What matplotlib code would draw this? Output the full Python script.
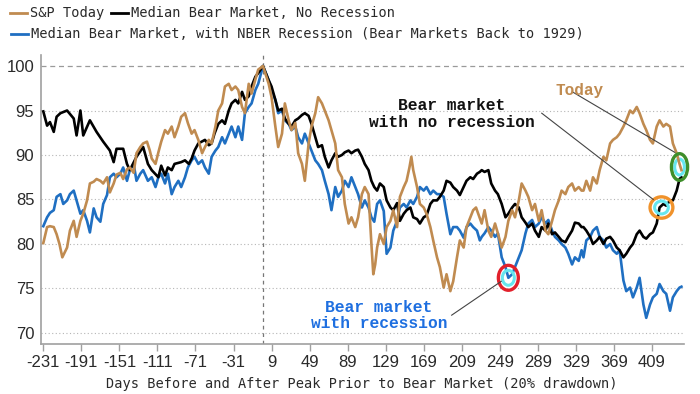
import matplotlib
matplotlib.use("Agg")
import matplotlib.pyplot as plt
from matplotlib.patches import Ellipse
from matplotlib.lines import Line2D

# ---------------- data ----------------
sp_days = [-231, -227, -224, -220, -217, -214, -211, -206, -203, -199, -196, -192, -189, -185, -182,
           -178, -175, -171, -168, -164, -161, -157, -154, -150, -147, -143, -140, -136, -133, -129,
           -126, -122, -119, -117, -113, -110, -107, -103, -100, -96, -93, -89, -86, -82, -79, -75,
           -72, -68, -64, -61, -57, -54, -50, -47, -43, -40, -36, -33, -29, -26, -22, -19, -15, -12,
           -8, -5, 0, 6, 9, 13, 16, 20, 23, 27, 30, 34, 37, 41, 44, 48, 51, 55, 58, 62, 65, 69, 72,
           76, 79, 83, 86, 90, 93, 97, 100, 104, 107, 111, 114, 116, 118, 120, 123, 127, 130, 134,
           137, 141, 144, 148, 151, 154, 156, 158, 162, 165, 169, 172, 176, 179, 183, 186, 190, 193,
           197, 200, 204, 207, 211, 214, 218, 221, 224, 230, 233, 237, 240, 244, 247, 251, 255, 258,
           262, 265, 269, 272, 276, 279, 283, 286, 290, 293, 297, 300, 304, 307, 311, 314, 318, 321,
           325, 328, 332, 335, 337, 340, 344, 347, 351, 354, 358, 361, 365, 368, 372, 375, 379, 382,
           386, 389, 393, 396, 400, 403, 407, 410, 414, 417, 421, 424, 428, 431, 435, 438, 440]
sp_vals = [80.1, 81.9, 82.0, 81.9, 81.1, 80.0, 78.5, 79.6, 81.5, 82.6, 80.8, 82.6, 83.4, 84.9, 86.8,
           87.0, 87.3, 87.1, 86.8, 87.5, 85.8, 86.8, 87.8, 88.0, 87.3, 88.4, 88.6, 88.0, 90.2, 90.9,
           91.3, 91.5, 90.5, 89.6, 89.0, 90.3, 91.5, 92.8, 92.4, 93.2, 92.0, 93.2, 94.3, 94.7, 93.6, 92.4,
           92.8, 91.7, 90.2, 90.9, 91.7, 91.3, 93.2, 95.0, 95.8, 97.7, 98.0, 97.3, 97.7, 97.3, 95.4, 94.7, 98.0, 96.9,
           98.5, 99.6, 100.0, 98.0, 96.5, 93.2, 90.9, 92.4, 95.8, 93.9, 92.8, 93.6, 90.2, 89.0, 87.1, 91.3, 93.2, 94.7, 96.5, 95.8, 95.0, 93.9, 92.8,
           91.3, 88.3, 87.5, 84.5, 82.3, 83.0, 81.9, 83.0, 85.6, 86.4, 85.6, 80.0, 76.6, 77.7, 79.6, 81.1, 80.0, 81.9, 82.6,
           83.8, 81.9, 85.3, 86.4, 87.1, 88.6, 89.8, 88.3, 86.4, 84.5, 84.1, 83.4, 81.9, 80.4, 78.5, 77.4, 75.1, 76.6,
           74.7, 75.8, 78.5, 80.4, 79.6, 81.9, 83.0, 83.8, 84.1, 82.3, 83.8, 81.5, 80.8, 82.3, 81.2, 79.6, 80.8, 82.6,
           83.8, 83.0, 84.9, 86.8, 86.0, 85.3, 83.8, 84.5, 82.6, 83.8, 81.5, 81.1, 82.6, 83.8, 84.9, 86.0, 85.6, 86.4,
           86.8, 86.0, 86.4, 86.0, 86.0, 87.1, 86.0, 87.5, 86.8, 88.3, 89.8, 89.4, 91.3, 91.7, 92.0, 92.4, 93.2, 93.9,
           95.0, 94.7, 95.4, 94.7, 93.5, 92.8, 91.7, 91.3, 93.2, 93.9, 93.2, 93.5, 93.2, 91.3, 90.2, 89.0, 88.3]

norec_days = [-231, -227, -224, -220, -217, -213, -206, -199, -196, -192, -189, -182, -175, -168, -161,
              -157, -154, -147, -143, -140, -133, -126, -121, -117, -110, -107, -103, -100, -96, -93,
              -86, -82, -78, -75, -72, -68, -61, -57, -54, -51, -47, -43, -40, -36, -33, -29, -26, -22,
              -19, -15, -12, -8, -5, 0, 6, 9, 13, 16, 20, 23, 27, 30, 34, 37, 41, 44, 48, 51, 55, 58, 62,
              65, 69, 72, 76, 79, 83, 86, 90, 93, 97, 100, 104, 107, 111, 114, 117, 120, 123, 127, 130,
              134, 137, 141, 144, 148, 151, 155, 158, 162, 165, 169, 172, 176, 179, 183, 186, 190, 193,
              197, 200, 204, 207, 211, 214, 218, 221, 225, 228, 230, 233, 237, 240, 244, 247, 251, 255,
              258, 262, 265, 269, 272, 276, 279, 283, 286, 290, 293, 297, 300, 304, 307, 311, 314, 318,
              321, 325, 328, 332, 335, 337, 340, 344, 347, 351, 354, 358, 361, 365, 368, 372, 375, 379,
              382, 386, 389, 393, 396, 400, 403, 407, 410, 414, 417, 421, 424, 428, 431, 435, 438, 440]
norec_vals = [94.9, 93.3, 93.7, 92.6, 94.3, 94.7, 95.0, 94.1, 92.2, 95.0, 92.2, 93.9, 92.6, 91.5, 90.5,
              89.2, 90.7, 90.7, 89.0, 88.3, 89.8, 90.9, 89.0, 88.3, 87.5, 88.8, 87.7, 88.6, 88.3, 89.0,
              89.2, 89.4, 89.0, 89.6, 90.5, 91.3, 91.7, 91.1, 91.3, 92.4, 93.5, 93.9, 93.5, 95.0, 95.8, 96.2, 95.8, 97.1,
              96.2, 96.6, 97.7, 98.8, 99.2, 100.0, 98.4, 97.7, 96.2, 95.0, 95.2, 94.1, 93.5, 93.2, 93.9, 94.1, 94.5, 94.7, 94.4, 93.5, 92.0, 90.9, 91.1,
              89.8, 88.6, 89.4, 90.2, 89.8, 90.0, 90.3, 90.5, 90.2, 90.5, 90.6, 89.8, 89.0, 88.3, 87.1, 86.4, 86.0, 86.8, 86.4, 84.9,
              84.1, 83.8, 84.6, 82.6, 83.4, 83.8, 84.1, 83.0, 82.8, 82.3, 83.0, 83.2, 84.5, 84.9, 84.9, 85.3, 86.0, 87.1,
              86.9, 86.4, 86.0, 85.5, 86.4, 87.1, 87.5, 87.3, 87.9, 88.1, 88.3, 88.1, 88.3, 86.8, 86.0, 85.6, 84.5, 83.0,
              83.4, 84.1, 84.5, 84.1, 83.0, 82.4, 81.9, 82.3, 81.5, 80.8, 81.9, 81.5, 82.3, 81.1, 81.3, 80.8, 80.4, 80.2,
              80.8, 81.5, 82.4, 82.3, 81.9, 81.9, 81.5, 80.8, 80.0, 80.4, 80.8, 80.0, 80.6, 80.8, 80.4, 79.6, 79.3, 78.5,
              78.9, 79.6, 80.0, 81.1, 81.5, 80.8, 80.6, 81.1, 81.3, 82.3, 84.1, 84.5, 84.3, 84.9, 84.9, 86.0, 87.3, 87.5]

rec_days = [-231, -227, -224, -220, -217, -213, -210, -206, -203, -199, -196, -192, -189, -185, -182,
            -178, -175, -171, -168, -164, -161, -157, -154, -150, -147, -143, -140, -136, -133, -129,
            -126, -121, -117, -113, -110, -107, -103, -100, -96, -93, -89, -86, -82, -79, -75, -72,
            -68, -64, -61, -57, -54, -50, -47, -43, -40, -36, -33, -29, -26, -22, -19, -15, -12, -8,
            -5, 0, 6, 9, 13, 16, 20, 23, 27, 30, 34, 37, 41, 44, 48, 51, 55, 58, 62, 65, 69, 72, 76,
            79, 83, 86, 90, 93, 97, 100, 104, 107, 111, 114, 117, 120, 123, 127, 130, 134, 137, 141,
            144, 148, 151, 155, 158, 162, 165, 169, 172, 176, 179, 183, 186, 190, 193, 197, 200, 204,
            207, 211, 214, 218, 221, 225, 228, 230, 233, 237, 240, 244, 247, 251, 255, 258, 262, 265,
            269, 272, 276, 279, 283, 286, 290, 293, 297, 300, 304, 307, 311, 314, 318, 321, 325, 328,
            332, 335, 337, 340, 344, 347, 351, 354, 358, 361, 365, 368, 372, 375, 379, 382, 386, 389,
            393, 396, 400, 403, 407, 410, 414, 417, 421, 424, 428, 431, 435, 438, 440]
rec_vals = [82.0, 83.0, 83.5, 83.8, 85.3, 85.6, 84.5, 84.9, 85.6, 86.0, 84.9, 83.4, 83.8, 82.6, 81.3,
            84.0, 83.0, 82.5, 84.5, 85.5, 87.5, 87.9, 87.5, 87.9, 88.6, 87.1, 88.3, 89.0, 87.1, 87.9,
            88.3, 87.1, 87.5, 86.4, 87.5, 87.9, 86.8, 87.9, 85.6, 86.4, 87.1, 86.4, 87.5, 88.6, 89.4, 89.8,
            89.0, 89.4, 88.6, 87.9, 89.8, 90.5, 90.9, 92.0, 91.3, 92.4, 93.2, 92.0, 93.2, 91.7, 94.7, 95.4, 95.8, 97.3,
            98.0, 100.0, 98.4, 97.3, 96.2, 94.7, 95.0, 93.9, 93.5, 92.8, 93.2, 92.0, 91.3, 92.4, 91.3, 90.5, 89.4, 89.0, 88.3, 87.1, 85.6, 83.8, 86.4,
            85.3, 86.0, 87.1, 86.4, 87.5, 86.4, 85.6, 84.1, 84.9, 84.1, 83.0, 82.5, 84.5, 84.9, 83.7, 78.9, 79.6, 81.5, 82.6,
            84.1, 84.5, 84.1, 84.9, 84.5, 85.3, 86.4, 86.0, 86.4, 85.6, 86.0, 85.6, 85.6, 85.3, 83.4, 81.1, 81.9, 81.9,
            81.5, 80.7, 81.9, 82.3, 81.9, 81.5, 80.4, 80.8, 81.2, 81.9, 81.5, 80.8, 81.2, 78.5, 77.4, 76.2, 76.6, 77.4,
            78.5, 79.3, 81.2, 82.3, 82.7, 81.9, 82.3, 83.0, 82.3, 82.7, 81.5, 80.8, 80.4, 80.0, 79.6, 78.9, 77.7, 78.5,
            78.1, 79.3, 78.5, 80.4, 80.8, 81.5, 81.9, 80.8, 80.4, 79.6, 80.0, 79.3, 78.9, 79.3, 75.9, 74.7, 75.1, 74.0,
            75.1, 76.2, 73.2, 71.7, 73.2, 74.0, 74.4, 75.5, 74.7, 74.4, 72.5, 74.0, 74.7, 75.1, 75.2]

xtick_vals = [-231, -191, -151, -111, -71, -31, 9, 49, 89, 129, 169, 209, 249, 289, 329, 369, 409]
xtick_labels = [str(v) for v in xtick_vals]
ytick_vals = [70, 75, 80, 85, 90, 95, 100]

legend_row1 = ["S&P Today", "Median Bear Market, No Recession"]
legend_row2 = "Median Bear Market, with NBER Recession (Bear Markets Back to 1929)"
xlabel = "Days Before and After Peak Prior to Bear Market (20% drawdown)"

# ---------------- style ----------------
TAN = "#C08B50"
BLUE = "#1F6FC2"
BLACK = "#000000"
TXT = "#2a2a2a"
MONO = "DejaVu Sans Mono"
ANNO = "Liberation Mono"

W, H = 700, 394
fig = plt.figure(figsize=(7.0, 3.94), dpi=100)
fig.patch.set_facecolor("white")
ax = fig.add_axes([41.3 / W, 1 - 344 / H, (684 - 41.3) / W, (344 - 55) / H])
ax.set_xlim(-233.1, 442.7)
ax.set_ylim(68.76, 101.24)

for v in ytick_vals[:-1]:
    ax.axhline(v, color="#b5b5b5", ls=(0, (1, 2.2)), lw=0.8, zorder=1)
ax.axhline(100, color="#9a9a9a", ls=(0, (4, 3)), lw=0.9, zorder=1)
ax.axvline(0, color="#777777", ls=(0, (3, 3)), lw=0.9, zorder=1)

ax.plot(rec_days, rec_vals, color=BLUE, lw=1.9, zorder=3, solid_joinstyle="round")
ax.plot(norec_days, norec_vals, color=BLACK, lw=1.9, zorder=4, solid_joinstyle="round")
ax.plot(sp_days, sp_vals, color=TAN, lw=1.9, zorder=5, solid_joinstyle="round")

for s in ["top", "right"]:
    ax.spines[s].set_visible(False)
for s in ["left", "bottom"]:
    ax.spines[s].set_color("#a0a0a0")
    ax.spines[s].set_linewidth(1.2)

ax.set_xticks(xtick_vals)
ax.set_xticklabels(xtick_labels)
ax.set_yticks(ytick_vals)
ax.set_yticklabels([str(v) for v in ytick_vals])
ax.tick_params(axis="x", direction="out", length=5, width=1, color="#a0a0a0", pad=3,
               labelsize=12, labelcolor=TXT)
ax.tick_params(axis="y", length=0, pad=5, labelsize=12, labelcolor=TXT)
for lab in ax.get_xticklabels() + ax.get_yticklabels():
    lab.set_family("Liberation Sans")

fig.text(362 / W, 1 - 384 / H, xlabel, ha="center", va="center", family=MONO,
         fontsize=9.8, color=TXT)

# ---------------- legend ----------------
def leg_item(x0, y, color, label):
    fig.add_artist(Line2D([x0 / W, (x0 + 17) / W], [1 - y / H, 1 - y / H], color=color, lw=2,
                          transform=fig.transFigure))
    fig.text((x0 + 20) / W, 1 - y / H, label, ha="left", va="center", family=MONO,
             fontsize=9.8, color=TXT)

leg_item(10, 13, TAN, legend_row1[0])
leg_item(111, 13, BLACK, legend_row1[1])
leg_item(11, 34, BLUE, legend_row2)

# ---------------- annotations ----------------
i_red = min(range(len(rec_days)), key=lambda i: rec_vals[i] if 200 < rec_days[i] < 300 else 999)
red_c = (rec_days[i_red], rec_vals[i_red])
i_or = norec_days.index(417)
or_c = (norec_days[i_or] + 2, norec_vals[i_or])
gr_c = (sp_days[-2], (sp_vals[-1] + sp_vals[-2]) / 2)

def ring(center, w, h, color):
    ax.add_patch(Ellipse(center, w * 0.6, h * 0.6, fill=False, ec="#66e6ee", lw=2.2,
                         zorder=4.5, clip_on=False))
    ax.add_patch(Ellipse(center, w, h, fill=False, ec=color, lw=2.4, zorder=6, clip_on=False))

ring(red_c, 21, 2.8, "#E2202B")
ring(or_c, 24, 2.4, "#F0922B")
ring(gr_c, 17, 3.0, "#3E8E2A")

ax.plot([325.3, 433.0], [97.1, 90.3], color="#444444", lw=0.8, zorder=7, clip_on=False)
ax.plot([293.1, 410.4], [94.7, 85.0], color="#444444", lw=0.8, zorder=7)
ax.plot([198.4, 250.5], [72.0, 75.8], color="#444444", lw=0.8, zorder=7)

ax.text(333.4, 97.3, "Today", ha="center", va="center", family=ANNO, fontweight="bold",
        fontsize=11.5, color=TAN, zorder=8)
ax.text(198.6, 94.6, "Bear market\nwith no recession", ha="center", va="center",
        multialignment="center", family=ANNO, fontweight="bold", fontsize=11.7,
        color="#111111", linespacing=1.15, zorder=8)
ax.text(122.0, 71.97, "Bear market\nwith recession", ha="center", va="center",
        multialignment="center", family=ANNO, fontweight="bold", fontsize=11.7,
        color="#1E6FE0", linespacing=1.15, zorder=8)

fig.savefig("out.png", dpi=100, facecolor="white")
